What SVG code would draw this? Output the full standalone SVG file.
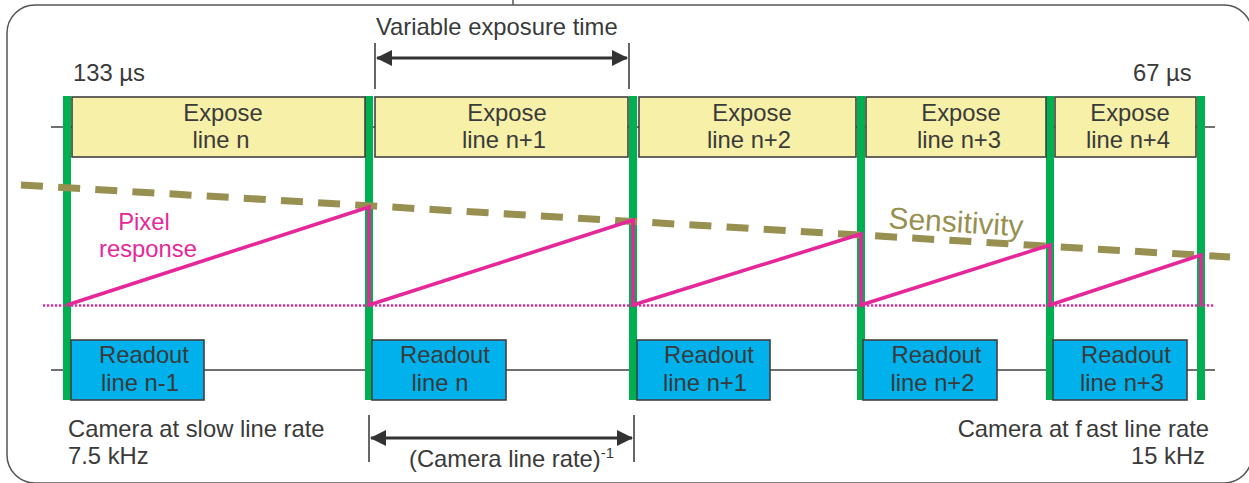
<svg xmlns="http://www.w3.org/2000/svg" width="1249" height="483" viewBox="0 0 1249 483">
<defs>
<style>
.t{font-family:"Liberation Sans",Arial,sans-serif;font-size:23.8px;fill:#3a3a3a}
.c{text-anchor:middle}
.e{fill:#f7f0a8;stroke:#404040;stroke-width:1.6}
.r{fill:#00b1ec;stroke:#404040;stroke-width:1.6}
.g{stroke:#00b050;stroke-width:8}
.ax{stroke:#404040;stroke-width:1.6;fill:none}
.ar{stroke:#333;stroke-width:3.2;fill:none}
.m{stroke:#e6279a;stroke-width:3.6;fill:none;stroke-linejoin:miter}
</style>
<marker id="ah" viewBox="0 0 16 16" refX="15" refY="8" markerWidth="16" markerHeight="16" markerUnits="userSpaceOnUse" orient="auto-start-reverse">
<path d="M0,0 L16,8 L0,16 Z" fill="#333"/>
</marker>
</defs>
<rect x="7" y="5" width="1245" height="478" rx="28" fill="#fff" stroke="#555" stroke-width="1.5"/>
<line x1="513" y1="0" x2="513" y2="5" stroke="#555" stroke-width="1.5"/>
<g id="connectors">
<line class="ax" x1="51" y1="127" x2="1215" y2="127"/>
<line class="ax" x1="51" y1="370" x2="1215" y2="370"/>
<line class="g" x1="67" y1="96" x2="67" y2="400"/>
<line class="g" x1="369" y1="96" x2="369" y2="400"/>
<line class="g" x1="633" y1="96" x2="633" y2="400"/>
<line class="g" x1="861" y1="96" x2="861" y2="400"/>
<line class="g" x1="1050" y1="96" x2="1050" y2="400"/>
<line class="g" x1="1201" y1="96" x2="1201" y2="400"/>
</g>
<g id="expose-n"><rect class="e" x="72" y="97" width="293" height="60"/><text class="t c" x="223" y="120.5">Expose</text><text class="t c" x="221" y="147.5">line n</text></g>
<g id="expose-n1"><rect class="e" x="375" y="97" width="253" height="60"/><text class="t c" x="507" y="120.5">Expose</text><text class="t c" x="504" y="147.5">line n+1</text></g>
<g id="expose-n2"><rect class="e" x="639" y="97" width="217" height="60"/><text class="t c" x="752" y="120.5">Expose</text><text class="t c" x="749" y="147.5">line n+2</text></g>
<g id="expose-n3"><rect class="e" x="866" y="97" width="180" height="60"/><text class="t c" x="961" y="120.5">Expose</text><text class="t c" x="959" y="147.5">line n+3</text></g>
<g id="expose-n4"><rect class="e" x="1055" y="97" width="141" height="60"/><text class="t c" x="1130" y="120.5">Expose</text><text class="t c" x="1128" y="147.5">line n+4</text></g>
<g id="readout-n-1"><rect class="r" x="71" y="340" width="133" height="60"/><text class="t c" x="144" y="362.5">Readout</text><text class="t c" x="140" y="390.5">line n-1</text></g>
<g id="readout-n"><rect class="r" x="372" y="340" width="134" height="60"/><text class="t c" x="445" y="362.5">Readout</text><text class="t c" x="440" y="390.5">line n</text></g>
<g id="readout-n1"><rect class="r" x="637" y="340" width="133" height="60"/><text class="t c" x="709" y="362.5">Readout</text><text class="t c" x="705" y="390.5">line n+1</text></g>
<g id="readout-n2"><rect class="r" x="863" y="340" width="134" height="60"/><text class="t c" x="936.5" y="362.5">Readout</text><text class="t c" x="932.5" y="390.5">line n+2</text></g>
<g id="readout-n3"><rect class="r" x="1053" y="340" width="134" height="60"/><text class="t c" x="1126" y="362.5">Readout</text><text class="t c" x="1122" y="390.5">line n+3</text></g>
<g id="sensitivity">
<line x1="21" y1="185" x2="1230" y2="257" stroke="#979050" stroke-width="7" stroke-dasharray="22 15.2"/>
<text x="888" y="228" transform="rotate(3.6 888 228)" style="font-family:'Liberation Sans',Arial,sans-serif;font-size:30px;fill:#979050">Sensitivity</text>
</g>
<g id="pixel-response">
<line x1="43" y1="305.5" x2="1215" y2="305.5" stroke="#e6279a" stroke-width="2.6" stroke-dasharray="2.2 1.8"/>
<polyline class="m" points="67,305 369,207 369,305 633,220 633,305 861,234 861,305 1050,245 1050,305 1201,255 1201,305"/>
<text class="c" x="144" y="230" style="font-family:'Liberation Sans',Arial,sans-serif;font-size:23.8px;fill:#e6279a">Pixel</text>
<text class="c" x="148" y="257" style="font-family:'Liberation Sans',Arial,sans-serif;font-size:23.8px;fill:#e6279a">response</text>
</g>
<g id="exposure-arrow">
<line class="ax" x1="375" y1="43" x2="375" y2="89"/>
<line class="ax" x1="629" y1="43" x2="629" y2="89"/>
<line class="ar" x1="377" y1="58" x2="627" y2="58" marker-start="url(#ah)" marker-end="url(#ah)"/>
<text class="t" x="376" y="35">Variable exposure time</text>
</g>
<g id="rate-arrow">
<line class="ax" x1="369" y1="415" x2="369" y2="462"/>
<line class="ax" x1="634" y1="415" x2="634" y2="462"/>
<line class="ar" x1="371" y1="438" x2="632" y2="438" marker-start="url(#ah)" marker-end="url(#ah)"/>
<text class="t" x="409" y="467">(Camera line rate)<tspan dy="-9" style="font-size:15px">-1</tspan></text>
</g>
<g id="labels">
<text class="t" x="73" y="81">133 µs</text>
<text class="t" x="1133" y="81">67 µs</text>
<text class="t" x="68" y="437">Camera at slow line rate</text>
<text class="t" x="68" y="464">7.5 kHz</text>
<text class="t" x="1209" y="437" text-anchor="end">Camera at f<tspan dx="4">ast line rate</tspan></text>
<text class="t" x="1205" y="464" text-anchor="end">15 kHz</text>
</g>
</svg>
